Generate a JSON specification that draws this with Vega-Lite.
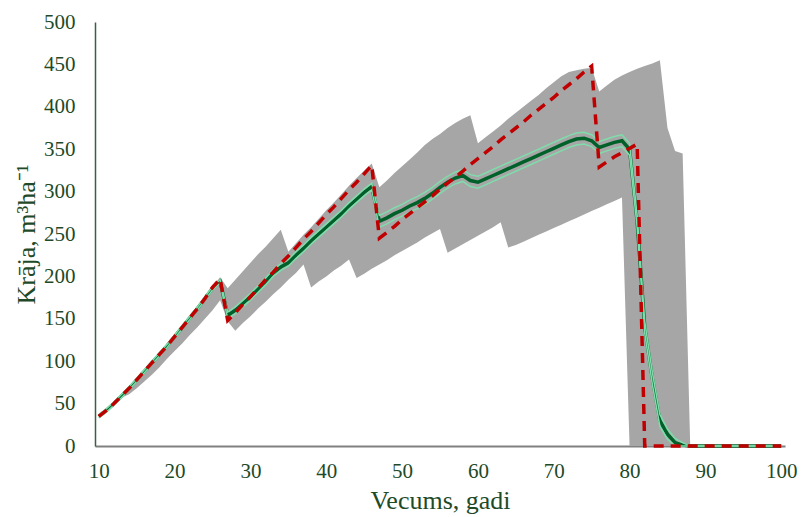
{
  "$schema": "https://vega.github.io/schema/vega-lite/v6.json",
  "width": 690,
  "height": 424,
  "autosize": "none",
  "padding": {"left": 95, "top": 22, "right": 20, "bottom": 71},
  "background": "white",
  "config": {
    "view": {"stroke": null},
    "font": "Liberation Serif",
    "axis": {"grid": false, "ticks": false, "tickSize": 0, "labelFont": "Liberation Serif", "titleFont": "Liberation Serif", "labelColor": "#1e4a28", "titleColor": "#1e4a28", "titleFontWeight": "normal", "labelFontSize": 21, "titleFontSize": 26}
  },
  "data": {"values": [
    {"year": 10, "det": 35, "mean": 35, "mn": 35, "mx": 36, "hi": 37, "lo": 33},
    {"year": 11, "det": 42, "mean": 42, "mn": 42, "mx": 43, "hi": 44, "lo": 40},
    {"year": 12, "det": 50, "mean": 50, "mn": 50, "mx": 51, "hi": 52, "lo": 48},
    {"year": 13, "det": 59, "mean": 59, "mn": 57, "mx": 60, "hi": 61, "lo": 57},
    {"year": 14, "det": 68, "mean": 68, "mn": 61, "mx": 69, "hi": 70, "lo": 66},
    {"year": 15, "det": 78, "mean": 78, "mn": 68, "mx": 79, "hi": 80, "lo": 76},
    {"year": 16, "det": 88, "mean": 88, "mn": 76, "mx": 89, "hi": 90, "lo": 86},
    {"year": 17, "det": 98, "mean": 98, "mn": 84, "mx": 99, "hi": 100, "lo": 96},
    {"year": 18, "det": 108, "mean": 108, "mn": 93, "mx": 109, "hi": 110, "lo": 106},
    {"year": 19, "det": 118, "mean": 118, "mn": 103, "mx": 119, "hi": 120, "lo": 116},
    {"year": 20, "det": 129, "mean": 129, "mn": 112, "mx": 130, "hi": 131, "lo": 127},
    {"year": 21, "det": 140, "mean": 140, "mn": 121, "mx": 141, "hi": 142, "lo": 138},
    {"year": 22, "det": 151, "mean": 151, "mn": 131, "mx": 152, "hi": 153, "lo": 149},
    {"year": 23, "det": 162, "mean": 162, "mn": 140, "mx": 163, "hi": 164, "lo": 160},
    {"year": 24, "det": 174, "mean": 174, "mn": 150, "mx": 175, "hi": 176, "lo": 172},
    {"year": 25, "det": 187, "mean": 186, "mn": 160, "mx": 188, "hi": 188, "lo": 184},
    {"year": 26, "det": 197, "mean": 194, "mn": 172, "mx": 199, "hi": 196, "lo": 192},
    {"year": 27, "det": 148, "mean": 154, "mn": 147, "mx": 186, "hi": 158, "lo": 150},
    {"year": 28, "det": 157, "mean": 160, "mn": 136, "mx": 196, "hi": 164, "lo": 156},
    {"year": 29, "det": 167, "mean": 168, "mn": 145, "mx": 206, "hi": 172, "lo": 164},
    {"year": 30, "det": 176, "mean": 176, "mn": 153, "mx": 216, "hi": 180, "lo": 172},
    {"year": 31, "det": 186, "mean": 185, "mn": 162, "mx": 226, "hi": 189, "lo": 181},
    {"year": 32, "det": 196, "mean": 194, "mn": 170, "mx": 235, "hi": 198, "lo": 190},
    {"year": 33, "det": 205, "mean": 204, "mn": 179, "mx": 245, "hi": 208, "lo": 200},
    {"year": 34, "det": 215, "mean": 211, "mn": 187, "mx": 255, "hi": 215, "lo": 207},
    {"year": 35, "det": 224, "mean": 216, "mn": 196, "mx": 229, "hi": 220, "lo": 212},
    {"year": 36, "det": 234, "mean": 225, "mn": 204, "mx": 239, "hi": 229, "lo": 221},
    {"year": 37, "det": 244, "mean": 233, "mn": 214, "mx": 249, "hi": 237, "lo": 229},
    {"year": 38, "det": 253, "mean": 242, "mn": 187, "mx": 258, "hi": 246, "lo": 238},
    {"year": 39, "det": 263, "mean": 250, "mn": 194, "mx": 268, "hi": 254, "lo": 246},
    {"year": 40, "det": 273, "mean": 258, "mn": 200, "mx": 278, "hi": 262, "lo": 254},
    {"year": 41, "det": 282, "mean": 266, "mn": 207, "mx": 287, "hi": 270, "lo": 262},
    {"year": 42, "det": 292, "mean": 274, "mn": 213, "mx": 297, "hi": 278, "lo": 270},
    {"year": 43, "det": 302, "mean": 283, "mn": 220, "mx": 307, "hi": 287, "lo": 279},
    {"year": 44, "det": 311, "mean": 291, "mn": 198, "mx": 316, "hi": 295, "lo": 287},
    {"year": 45, "det": 321, "mean": 299, "mn": 203, "mx": 325, "hi": 303, "lo": 295},
    {"year": 46, "det": 331, "mean": 306, "mn": 209, "mx": 333, "hi": 310, "lo": 302},
    {"year": 47, "det": 245, "mean": 265, "mn": 214, "mx": 305, "hi": 272, "lo": 258},
    {"year": 48, "det": 252, "mean": 269, "mn": 219, "mx": 313, "hi": 276, "lo": 262},
    {"year": 49, "det": 259, "mean": 274, "mn": 225, "mx": 322, "hi": 281, "lo": 267},
    {"year": 50, "det": 267, "mean": 278, "mn": 230, "mx": 330, "hi": 285, "lo": 271},
    {"year": 51, "det": 274, "mean": 283, "mn": 235, "mx": 338, "hi": 290, "lo": 276},
    {"year": 52, "det": 281, "mean": 287, "mn": 240, "mx": 346, "hi": 294, "lo": 280},
    {"year": 53, "det": 288, "mean": 292, "mn": 246, "mx": 355, "hi": 299, "lo": 285},
    {"year": 54, "det": 295, "mean": 298, "mn": 251, "mx": 362, "hi": 305, "lo": 291},
    {"year": 55, "det": 303, "mean": 305, "mn": 256, "mx": 368, "hi": 312, "lo": 298},
    {"year": 56, "det": 310, "mean": 311, "mn": 228, "mx": 375, "hi": 318, "lo": 304},
    {"year": 57, "det": 317, "mean": 316, "mn": 233, "mx": 381, "hi": 323, "lo": 309},
    {"year": 58, "det": 324, "mean": 319, "mn": 238, "mx": 386, "hi": 326, "lo": 312},
    {"year": 59, "det": 332, "mean": 313, "mn": 243, "mx": 390, "hi": 320, "lo": 306},
    {"year": 60, "det": 339, "mean": 311, "mn": 248, "mx": 357, "hi": 318, "lo": 304},
    {"year": 61, "det": 346, "mean": 315, "mn": 253, "mx": 364, "hi": 322, "lo": 308},
    {"year": 62, "det": 353, "mean": 319, "mn": 258, "mx": 371, "hi": 326, "lo": 312},
    {"year": 63, "det": 361, "mean": 323, "mn": 264, "mx": 378, "hi": 330, "lo": 316},
    {"year": 64, "det": 368, "mean": 327, "mn": 234, "mx": 386, "hi": 334, "lo": 320},
    {"year": 65, "det": 375, "mean": 331, "mn": 237, "mx": 393, "hi": 338, "lo": 324},
    {"year": 66, "det": 382, "mean": 335, "mn": 241, "mx": 400, "hi": 342, "lo": 328},
    {"year": 67, "det": 390, "mean": 339, "mn": 245, "mx": 407, "hi": 346, "lo": 332},
    {"year": 68, "det": 397, "mean": 343, "mn": 249, "mx": 414, "hi": 350, "lo": 336},
    {"year": 69, "det": 404, "mean": 347, "mn": 253, "mx": 422, "hi": 354, "lo": 340},
    {"year": 70, "det": 411, "mean": 351, "mn": 257, "mx": 429, "hi": 358, "lo": 344},
    {"year": 71, "det": 419, "mean": 355, "mn": 261, "mx": 436, "hi": 362, "lo": 348},
    {"year": 72, "det": 426, "mean": 359, "mn": 265, "mx": 441, "hi": 366, "lo": 352},
    {"year": 73, "det": 433, "mean": 362, "mn": 269, "mx": 443, "hi": 369, "lo": 355},
    {"year": 74, "det": 441, "mean": 363, "mn": 273, "mx": 445, "hi": 370, "lo": 356},
    {"year": 75, "det": 448, "mean": 360, "mn": 277, "mx": 446, "hi": 367, "lo": 353},
    {"year": 76, "det": 329, "mean": 352, "mn": 281, "mx": 418, "hi": 359, "lo": 345},
    {"year": 77, "det": 335, "mean": 355, "mn": 285, "mx": 425, "hi": 362, "lo": 348},
    {"year": 78, "det": 341, "mean": 358, "mn": 289, "mx": 432, "hi": 365, "lo": 351},
    {"year": 79, "det": 346, "mean": 360, "mn": 293, "mx": 437, "hi": 367, "lo": 353},
    {"year": 80, "det": 351, "mean": 350, "mn": 0, "mx": 441, "hi": 357, "lo": 343},
    {"year": 81, "det": 356, "mean": 265, "mn": 0, "mx": 445, "hi": 272, "lo": 258},
    {"year": 82, "det": 0, "mean": 140, "mn": 0, "mx": 448, "hi": 147, "lo": 133},
    {"year": 83, "det": 0, "mean": 80, "mn": 0, "mx": 451, "hi": 87, "lo": 73},
    {"year": 84, "det": 0, "mean": 30, "mn": 0, "mx": 455, "hi": 37, "lo": 23},
    {"year": 85, "det": 0, "mean": 14, "mn": 0, "mx": 375, "hi": 20, "lo": 8},
    {"year": 86, "det": 0, "mean": 4, "mn": 0, "mx": 348, "hi": 9, "lo": 0},
    {"year": 87, "det": 0, "mean": 1, "mn": 0, "mx": 345, "hi": 4, "lo": 0},
    {"year": 88, "det": 0, "mean": 0, "mn": 0, "mx": 0, "hi": 0, "lo": 0},
    {"year": 89, "det": 0, "mean": 0, "mn": 0, "mx": 0, "hi": 0, "lo": 0},
    {"year": 90, "det": 0, "mean": 0, "mn": 0, "mx": 0, "hi": 0, "lo": 0},
    {"year": 91, "det": 0, "mean": 0, "mn": 0, "mx": 0, "hi": 0, "lo": 0},
    {"year": 92, "det": 0, "mean": 0, "mn": 0, "mx": 0, "hi": 0, "lo": 0},
    {"year": 93, "det": 0, "mean": 0, "mn": 0, "mx": 0, "hi": 0, "lo": 0},
    {"year": 94, "det": 0, "mean": 0, "mn": 0, "mx": 0, "hi": 0, "lo": 0},
    {"year": 95, "det": 0, "mean": 0, "mn": 0, "mx": 0, "hi": 0, "lo": 0},
    {"year": 96, "det": 0, "mean": 0, "mn": 0, "mx": 0, "hi": 0, "lo": 0},
    {"year": 97, "det": 0, "mean": 0, "mn": 0, "mx": 0, "hi": 0, "lo": 0},
    {"year": 98, "det": 0, "mean": 0, "mn": 0, "mx": 0, "hi": 0, "lo": 0},
    {"year": 99, "det": 0, "mean": 0, "mn": 0, "mx": 0, "hi": 0, "lo": 0},
    {"year": 100, "det": 0, "mean": 0, "mn": 0, "mx": 0, "hi": 0, "lo": 0}
  ]},
  "encoding": {
    "x": {"field": "year", "type": "quantitative",
      "scale": {"domain": [9.5, 100.5], "nice": false, "zero": false},
      "axis": {"title": "Vecums, gadi", "values": [10, 20, 30, 40, 50, 60, 70, 80, 90, 100], "domainColor": "#808080", "domainWidth": 2, "labelPadding": 14, "titlePadding": 6}}
  },
  "layer": [
    {"mark": {"type": "area", "color": "#a6a6a6", "opacity": 1},
     "encoding": {
       "y": {"field": "mn", "type": "quantitative",
         "scale": {"domain": [0, 500], "nice": false},
         "axis": {"title": "Krāja, m³ha⁻¹", "values": [0, 50, 100, 150, 200, 250, 300, 350, 400, 450, 500], "domainColor": "#3d5e45", "domainWidth": 1.5, "labelPadding": 20, "titlePadding": 4}},
       "y2": {"field": "mx"}}},
    {"mark": {"type": "line", "color": "#00602a", "strokeWidth": 3.5},
     "encoding": {"y": {"field": "mean", "type": "quantitative"}}},
    {"mark": {"type": "line", "color": "#7fdcab", "strokeWidth": 1.5},
     "encoding": {"y": {"field": "hi", "type": "quantitative"}}},
    {"mark": {"type": "line", "color": "#7fdcab", "strokeWidth": 1.5},
     "encoding": {"y": {"field": "lo", "type": "quantitative"}}},
    {"mark": {"type": "line", "color": "#c00000", "strokeWidth": 3.5, "strokeDash": [10, 7]},
     "encoding": {"y": {"field": "det", "type": "quantitative"}}}
  ]
}
